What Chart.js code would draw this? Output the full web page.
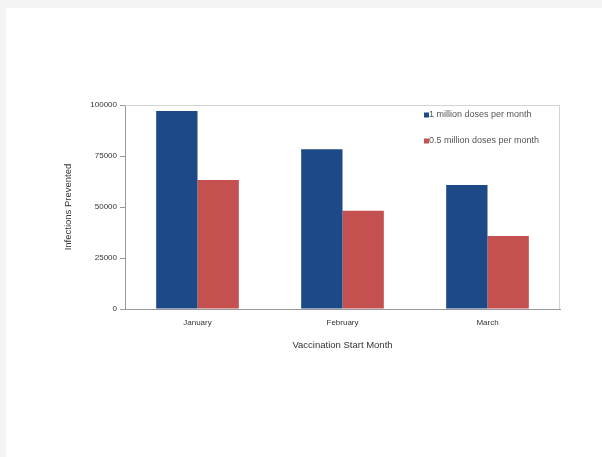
<!DOCTYPE html>
<html>
<head>
<meta charset="utf-8">
<script src="https://cdn.jsdelivr.net/npm/chart.js@4"></script>
<style>
  html, body { margin: 0; padding: 0; background: #f4f4f4; }
  #wrap { position: absolute; left: 6px; top: 8px; width: 596px; height: 449px; background: #fff; }
</style>
</head>
<body>
<div id="wrap"><canvas id="vaxChart"></canvas></div>
<script>
const months = ['January', 'February', 'March'];
const oneMillion = [97000, 78300, 60800];
const halfMillion = [63200, 48200, 35800];
const yTicks = [0, 25000, 50000, 75000, 100000];

const fontFam = '"Liberation Sans", Arial, sans-serif';

// plot frame + legend drawn inside the chart area
const framePlugin = {
    id: 'frame',
    beforeDatasetsDraw(chart) {
        const a = chart.chartArea, c = chart.ctx;
        c.save();
        c.strokeStyle = '#d4d4d4';
        c.lineWidth = 1;
        c.beginPath();
        c.moveTo(a.left, a.top + 0.5);
        c.lineTo(a.right - 0.5, a.top + 0.5);
        c.lineTo(a.right - 0.5, a.bottom);
        c.stroke();
        c.restore();
    },
    afterDraw(chart) {
        const a = chart.chartArea, c = chart.ctx;
        c.save();
        c.font = '9px ' + fontFam;
        c.textBaseline = 'middle';
        chart.data.datasets.forEach((ds, i) => {
            const y = a.top + 10 + i * 26;
            const x = a.right - 136;
            c.fillStyle = ds.backgroundColor;
            c.fillRect(x, y - 2.5, 5, 5);
            c.fillStyle = '#555';
            c.fillText(ds.label, x + 5, y);
        });
        c.restore();
    }
};

const ctx = document.getElementById('vaxChart').getContext('2d');
const vaxChart = new Chart(ctx, {
    type: 'bar',
    data: {
        labels: months,
        datasets: [{
            label: '1 million doses per month',
            data: oneMillion,
            backgroundColor: '#1d4a86',
            categoryPercentage: 0.57,
            barPercentage: 1
        }, {
            label: '0.5 million doses per month',
            data: halfMillion,
            backgroundColor: '#c4514f',
            categoryPercentage: 0.57,
            barPercentage: 1
        }]
    },
    options: {
        responsive: true,
        maintainAspectRatio: false,
        animation: false,
        layout: { padding: { top: 97, right: 42, left: 53, bottom: 102 } },
        scales: {
            x: {
                grid: { display: true, drawOnChartArea: false, drawTicks: false, color: 'rgba(0,0,0,0)' },
                border: { color: '#999' },
                ticks: { color: '#333', font: { family: fontFam, size: 8 }, padding: 9 },
                title: { display: true, text: 'Vaccination Start Month', color: '#333', font: { family: fontFam, size: 9.5 } },
                afterFit(scale) { scale.height = 46; }
            },
            y: {
                min: 0,
                max: 100000,
                afterBuildTicks(scale) { scale.ticks = yTicks.map(v => ({ value: v })); },
                grid: { drawOnChartArea: false, drawTicks: true, tickLength: 5, color: '#999' },
                border: { color: '#999' },
                ticks: {
                    color: '#333',
                    font: { family: fontFam, size: 8 },
                    padding: 3,
                    callback: v => String(v)
                },
                title: { display: true, text: 'Infections Prevented', color: '#333', font: { family: fontFam, size: 9.5 } },
                afterFit(scale) { scale.width = 66; }
            }
        },
        plugins: {
            legend: { display: false },
            tooltip: { enabled: false }
        }
    },
    plugins: [framePlugin]
});
</script>
</body>
</html>
